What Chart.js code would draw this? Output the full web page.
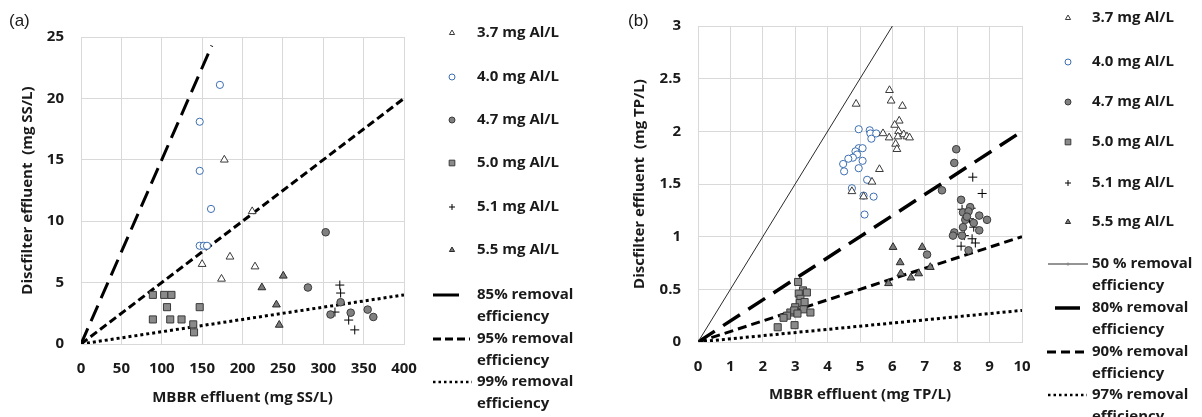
<!DOCTYPE html>
<html>
<head>
<meta charset="utf-8">
<script src="https://cdn.jsdelivr.net/npm/chart.js@4.4.1/dist/chart.umd.min.js"></script>
<style>
  html, body { margin: 0; padding: 0; background: #fff; }
  #wrap { position: relative; width: 1202px; height: 417px; overflow: hidden; }
  #chartA { position: absolute; left: 0; top: 0; }
  #chartB { position: absolute; left: 600px; top: 0; }
</style>
</head>
<body>
<div id="wrap">
  <canvas id="chartA" width="600" height="417"></canvas>
  <canvas id="chartB" width="602" height="417"></canvas>
</div>
<script>
// legend texts
const doseLabels = ['3.7 mg Al/L', '4.0 mg Al/L', '4.7 mg Al/L', '5.0 mg Al/L', '5.1 mg Al/L', '5.5 mg Al/L'];
const ssLineLabels = [['85% removal', 'efficiency'], ['95% removal', 'efficiency'], ['99% removal', 'efficiency']];
const tpLineLabels = [['50 % removal', 'efficiency'], ['80% removal', 'efficiency'], ['90% removal', 'efficiency'], ['97% removal', 'efficiency']];

// (a) suspended solids, mg SS/L
const ss37X = [177.5, 212, 184.5, 150, 215.5, 174];
const ss37Y = [15.0, 10.8, 7.1, 6.5, 6.3, 5.3];
const ss40X = [172, 147, 147, 161, 147, 152, 156];
const ss40Y = [21.1, 18.1, 14.1, 11.0, 8.0, 8.0, 8.0];
const ss47X = [303, 281, 321.5, 309, 334, 355, 362];
const ss47Y = [9.1, 4.6, 3.4, 2.4, 2.55, 2.8, 2.2];
const ss50X = [89, 103, 112, 106.5, 147, 89, 110.5, 124.5, 139, 140];
const ss50Y = [4.0, 4.0, 4.0, 3.0, 3.0, 2.0, 2.0, 2.0, 1.6, 0.95];
const ss51X = [320.5, 321.5, 314.5, 331.5, 339];
const ss51Y = [4.8, 4.15, 2.6, 1.95, 1.15];
const ss55X = [250.5, 224, 242, 245.5];
const ss55Y = [5.55, 4.6, 3.2, 1.55];
const ss85X = [0, 162], ss85Y = [0, 24.3];
const ss95X = [0, 400], ss95Y = [0, 20];
const ss99X = [0, 400], ss99Y = [0, 4];

// (b) total phosphorus, mg TP/L
const tp37X = [5.91, 5.96, 6.31, 4.88, 6.21, 6.07, 5.71, 5.90, 6.19, 6.17, 6.35, 6.45, 6.53, 6.10, 6.14, 5.60, 5.37, 4.75, 5.11];
const tp37Y = [2.39, 2.29, 2.24, 2.26, 2.10, 2.06, 1.98, 1.94, 2.00, 1.95, 1.97, 1.95, 1.94, 1.88, 1.83, 1.64, 1.52, 1.43, 1.38];
const tp40X = [4.96, 5.30, 5.32, 5.50, 5.35, 4.96, 5.08, 4.86, 4.91, 4.78, 4.64, 4.48, 5.08, 4.51, 4.96, 5.22, 4.75, 5.11, 5.42, 5.14];
const tp40Y = [2.02, 2.01, 1.98, 1.98, 1.93, 1.84, 1.84, 1.81, 1.78, 1.75, 1.74, 1.69, 1.72, 1.62, 1.65, 1.54, 1.46, 1.39, 1.38, 1.21];
const tp47X = [7.97, 7.91, 7.53, 8.12, 8.40, 8.18, 8.25, 8.51, 8.68, 8.92, 8.68, 8.18, 7.91, 7.87, 8.15, 8.35, 8.35, 7.07, 8.30];
const tp47Y = [1.83, 1.70, 1.44, 1.35, 1.28, 1.23, 1.16, 1.13, 1.20, 1.16, 1.06, 1.09, 1.04, 1.01, 1.01, 0.87, 1.24, 0.83, 1.19];
const tp50X = [3.09, 3.24, 3.36, 3.11, 3.16, 3.14, 3.29, 3.00, 3.26, 3.47, 2.85, 2.75, 2.64, 2.97, 3.07, 2.46, 2.98];
const tp50Y = [0.57, 0.49, 0.47, 0.46, 0.41, 0.37, 0.38, 0.33, 0.31, 0.28, 0.28, 0.25, 0.23, 0.30, 0.27, 0.14, 0.16];
const tp51X = [8.48, 8.77, 8.15, 8.43, 8.38, 8.51, 8.22, 8.46, 8.56, 8.12];
const tp51Y = [1.565, 1.41, 1.26, 1.27, 1.17, 1.09, 1.01, 0.98, 0.94, 0.91];
const tp55X = [6.02, 6.92, 6.24, 6.26, 6.57, 6.81, 7.17, 5.88];
const tp55Y = [0.90, 0.90, 0.755, 0.65, 0.61, 0.65, 0.71, 0.557];
const tp50lX = [0, 6], tp50lY = [0, 3];
const tp80X = [0, 10], tp80Y = [0, 2];
const tp90X = [0, 10], tp90Y = [0, 1];
const tp97X = [0, 10], tp97Y = [0, 0.3];

const ink = '#1a1a1a';
const gridCol = '#d9d9d9';
const fontFam = '"Open Sans", "Liberation Sans", sans-serif';

function pts(xs, ys) { return xs.map((x, i) => ({ x: x, y: ys[i] })); }

const markerStyles = [
  { pointStyle: 'triangle', backgroundColor: '#ffffff', borderColor: '#3a3a3a', pointRadius: 4.5 },
  { pointStyle: 'circle', backgroundColor: '#ffffff', borderColor: '#3d6fb0', pointRadius: 3.6 },
  { pointStyle: 'circle', backgroundColor: '#808080', borderColor: '#3a3a3a', pointRadius: 3.8 },
  { pointStyle: 'rect', backgroundColor: '#8a8a8a', borderColor: '#3a3a3a', pointRadius: 5 },
  { pointStyle: 'cross', backgroundColor: '#000000', borderColor: '#000000', pointRadius: 4.5 },
  { pointStyle: 'triangle', backgroundColor: '#7a7a7a', borderColor: '#2a2a2a', pointRadius: 4.5 }
];

function markerSets(pairs) {
  return pairs.map((p, i) => Object.assign({
    label: doseLabels[i],
    legendText: [doseLabels[i]],
    data: pts(p[0], p[1]),
    borderWidth: 1,
    showLine: false
  }, markerStyles[i]));
}

function lineSet(label, xs, ys, width, dash, color) {
  return {
    label: label.join(' '),
    legendText: label,
    data: pts(xs, ys),
    showLine: true,
    pointRadius: 0,
    borderColor: color || '#000',
    borderWidth: width,
    borderDash: dash,
    fill: false
  };
}

const decor = {
  id: 'decor',
  afterDraw(chart, args, o) {
    const ctx = chart.ctx;
    ctx.save();
    ctx.fillStyle = ink;
    ctx.textBaseline = 'middle';
    ctx.textAlign = 'left';
    ctx.font = '17px "Liberation Sans", sans-serif';
    ctx.fillText(o.tag, o.tagX, o.tagY);
    ctx.font = 'bold 15px ' + fontFam;
    chart.data.datasets.forEach((ds, i) => {
      const y = o.rows[i];
      if (ds.showLine) {
        const s = o.samples[i];
        ctx.strokeStyle = ds.borderColor;
        ctx.lineWidth = s[3] || ds.borderWidth;
        ctx.setLineDash(s[2]);
        ctx.beginPath();
        ctx.moveTo(s[0], y);
        ctx.lineTo(s[1], y);
        ctx.stroke();
        ctx.setLineDash([]);
        if (s[4]) {
          ctx.fillStyle = '#888';
          ctx.beginPath();
          ctx.arc((s[0] + s[1]) / 2, y, 1.5, 0, Math.PI * 2);
          ctx.fill();
        }
      } else {
        ctx.fillStyle = ds.backgroundColor;
        ctx.strokeStyle = ds.borderColor;
        ctx.lineWidth = 1;
        Chart.helpers.drawPoint(ctx, { pointStyle: ds.pointStyle, radius: ds.pointStyle === 'rect' ? 4 : 3, rotation: 0, borderWidth: 1 }, o.markX, y);
      }
      ctx.fillStyle = ink;
      ds.legendText.forEach((t, k) => ctx.fillText(t, o.textX, y + k * o.gap));
    });
    ctx.restore();
  }
};

function axis(min, max, step, title, fixed, titlePad, tickPad, horizontal) {
  return {
    type: 'linear',
    min: min,
    max: max,
    afterFit: s => { if (horizontal) s.height = fixed; else s.width = fixed; },
    ticks: {
      stepSize: step, padding: tickPad, color: ink,
      font: { family: fontFam, size: 15, weight: 'bold' },
      callback: v => String(v)
    },
    grid: { color: gridCol, drawTicks: false, lineWidth: 1 },
    border: { color: gridCol },
    title: { display: true, text: title, color: ink, padding: titlePad, font: { family: fontFam, size: 15, weight: 'bold' } }
  };
}

function makeChart(id, datasets, scales, padding, decorOpts) {
  return new Chart(document.getElementById(id), {
    type: 'scatter',
    data: { datasets: datasets },
    options: {
      responsive: false,
      animation: false,
      events: [],
      layout: { padding: padding },
      plugins: { legend: { display: false }, tooltip: { enabled: false }, decor: decorOpts },
      scales: scales
    },
    plugins: [decor]
  });
}

makeChart('chartA',
  markerSets([[ss37X, ss37Y], [ss40X, ss40Y], [ss47X, ss47Y], [ss50X, ss50Y], [ss51X, ss51Y], [ss55X, ss55Y]]).concat([
    lineSet(ssLineLabels[0], ss85X, ss85Y, 3, [17, 8]),
    lineSet(ssLineLabels[1], ss95X, ss95Y, 3, [8, 4]),
    lineSet(ssLineLabels[2], ss99X, ss99Y, 3, [3, 3])
  ]),
  {
    x: axis(0, 400, 50, 'MBBR effluent (mg SS/L)', 73, { top: 0, bottom: 10 }, 16, true),
    y: axis(0, 25, 5, 'Discfilter effluent  (mg SS/L)', 81, { top: 19, bottom: 0 }, 17, false)
  },
  { left: 0, right: 196, top: 37, bottom: 0 },
  {
    tag: '(a)', tagX: 9, tagY: 21,
    markX: 452, textX: 477, gap: 22,
    rows: [33, 77, 120, 163, 207, 250, 295, 339, 382],
    samples: { 6: [433, 459, [], 3], 7: [433, 470, [8, 4], 3], 8: [433, 472, [2.5, 3], 2.5] }
  }
);

makeChart('chartB',
  markerSets([[tp37X, tp37Y], [tp40X, tp40Y], [tp47X, tp47Y], [tp50X, tp50Y], [tp51X, tp51Y], [tp55X, tp55Y]]).concat([
    lineSet(tpLineLabels[0], tp50lX, tp50lY, 1, [], '#2a2a2a'),
    lineSet(tpLineLabels[1], tp80X, tp80Y, 3.5, [20, 10]),
    lineSet(tpLineLabels[2], tp90X, tp90Y, 3, [9, 5]),
    lineSet(tpLineLabels[3], tp97X, tp97Y, 3, [3, 3])
  ]),
  {
    x: axis(0, 10, 1, 'MBBR effluent (mg TP/L)', 75, { top: 0, bottom: 13 }, 16, true),
    y: axis(0, 3, 0.5, 'Discfilter effluent  (mg TP/L)', 98, { top: 31, bottom: 0 }, 17, false)
  },
  { left: 0, right: 180, top: 24, bottom: 0 },
  {
    tag: '(b)', tagX: 28, tagY: 21,
    markX: 468, textX: 492, gap: 22,
    rows: [18, 62, 102, 142, 183, 222, 264, 308, 352, 395],
    samples: { 6: [448, 488, [], 1, true], 7: [455, 480, [], 3.5], 8: [447, 487, [9, 5], 3], 9: [448, 487, [2.5, 3], 2.5] }
  }
);
</script>
</body>
</html>
